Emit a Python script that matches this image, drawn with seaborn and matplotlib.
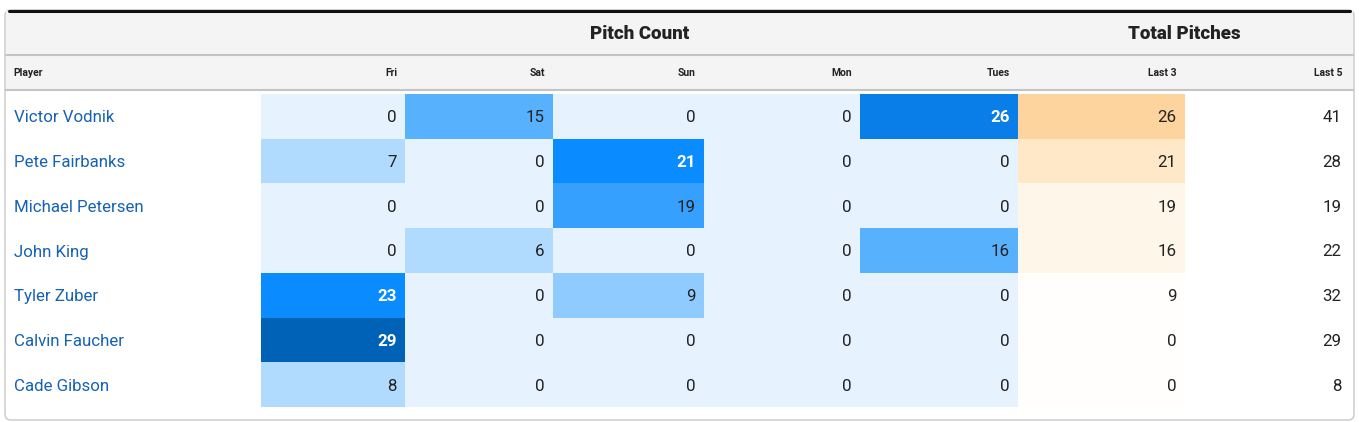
import numpy as np
import pandas as pd
import matplotlib
matplotlib.use("Agg")
import matplotlib.pyplot as plt
import seaborn as sns
from matplotlib.colors import ListedColormap, BoundaryNorm
from matplotlib.patches import FancyBboxPatch, Rectangle

sns.set_theme(style="white")
plt.rcParams['font.family'] = ['Roboto', 'DejaVu Sans']

# data
players = ["Victor Vodnik", "Pete Fairbanks", "Michael Petersen", "John King",
           "Tyler Zuber", "Calvin Faucher", "Cade Gibson"]
days = ["Fri", "Sat", "Sun", "Mon", "Tues"]
fri = [0, 7, 0, 0, 23, 29, 8]
sat = [15, 0, 0, 6, 0, 0, 0]
sun = [0, 21, 19, 0, 9, 0, 0]
mon = [0, 0, 0, 0, 0, 0, 0]
tues = [26, 0, 0, 16, 0, 0, 0]
last3 = [26, 21, 19, 16, 9, 0, 0]
last5 = [41, 28, 19, 22, 32, 29, 8]

df = pd.DataFrame({"Fri": fri, "Sat": sat, "Sun": sun, "Mon": mon, "Tues": tues,
                   "Last 3": last3, "Last 5": last5}, index=players)

W, H = 1359, 422
fig = plt.figure(figsize=(W / 100, H / 100), dpi=100)
fig.patch.set_facecolor("white")

# background axes in pixel coordinates
bg = fig.add_axes([0, 0, 1, 1])
bg.set_xlim(0, W)
bg.set_ylim(H, 0)
bg.axis("off")

bg.add_patch(FancyBboxPatch((5, 10), 1349, 410, boxstyle="round,pad=0,rounding_size=6",
                            facecolor="white", edgecolor="#c8c8c8", lw=1))
bg.add_patch(Rectangle((5.7, 11), 1347.6, 79, facecolor="#f4f4f4", edgecolor="none"))
bg.plot([9, 1350], [10.5, 10.5], color="#111111", lw=2.2, solid_capstyle="round")
bg.plot([6, 1353], [55, 55], color="#c4c4c4", lw=1.5)
bg.plot([6, 1353], [90, 90], color="#c4c4c4", lw=1.5)

edges = [261, 405, 553, 704, 860, 1018, 1185, 1350]
top, bottom = 94, 407

bg.text((edges[0] + edges[5]) / 2, 34, "Pitch Count", ha="center", va="center",
        fontsize=13.5, fontweight="black", color="#222222")
bg.text((edges[5] + edges[7]) / 2, 34, "Total Pitches", ha="center", va="center",
        fontsize=13.5, fontweight="black", color="#222222")
bg.text(13, 73, "Player", ha="left", va="center", fontsize=7.5, fontweight="bold",
        color="#222222")

row_h = (bottom - top) / len(players)
for i, name in enumerate(players):
    bg.text(14, top + row_h * (i + 0.5) + 1.5, name, ha="left", va="center",
            fontsize=12.2, color="#1662b4")

blue_cmap = ListedColormap(["#e6f2fe", "#b1dbfe", "#8fcbfe", "#57b1fd",
                            "#36a0fe", "#0a8bff", "#0a7ee8", "#0062b6"])
blue_norm = BoundaryNorm([-0.5, 0.5, 8.5, 12, 17.5, 20, 24, 27.5, 30], blue_cmap.N)
orange_cmap = ListedColormap(["#fffefc", "#fff6ea", "#fee8c8", "#fed49e"])
orange_norm = BoundaryNorm([-0.5, 15.5, 20, 24, 30], orange_cmap.N)
white_cmap = ListedColormap(["#ffffff"])

for j, col in enumerate(df.columns):
    x0, x1 = edges[j], edges[j + 1]
    ax = fig.add_axes([x0 / W, 1 - bottom / H, (x1 - x0) / W, (bottom - top) / H])
    if col in days:
        cmap, norm = blue_cmap, blue_norm
    elif col == "Last 3":
        cmap, norm = orange_cmap, orange_norm
    else:
        cmap, norm = white_cmap, None
    sns.heatmap(df[[col]], ax=ax, cmap=cmap, norm=norm, cbar=False,
                xticklabels=False, yticklabels=False, linewidths=0)
    ax.axis("off")
    pad = 8.5 / (x1 - x0)
    for i, v in enumerate(df[col]):
        white = col in days and v >= 21
        ax.text(1 - pad, i + 0.5 + 1.5 / row_h, str(v), ha="right", va="center",
                fontsize=12.2,
                fontweight="bold" if white else "normal",
                color="white" if white else "#222222")
    bg.text(x1 - 8, 73, col, ha="right", va="center", fontsize=7.5,
            fontweight="bold", color="#222222")

fig.savefig("out.png", dpi=100, facecolor="white")
